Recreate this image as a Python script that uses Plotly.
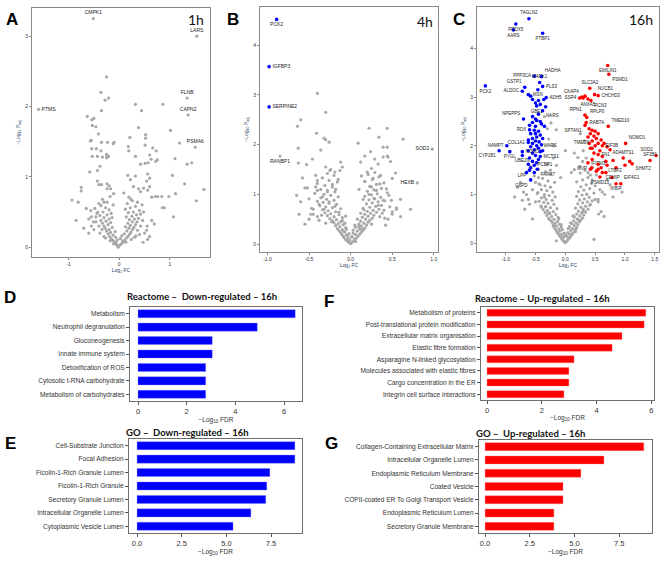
import plotly.graph_objects as go

W, H = 669, 561
GREY = "#a8a8a8"
BLUE = "#0000ff"
RED = "#ff0000"

# ---------------- A: 1h volcano ----------------
a_grey_x = [-0.25, -0.36, -0.21, -0.28, 0.32, 0.86, -0.35, 0.44, -0.63, -0.54, -0.5, -0.53, -0.46, -0.41, 1.01, 0.38,
            0.52, 0.52, 0.21, -0.57, -0.55, -0.35, -0.23, -0.10, -0.12, 0.18, 0.51, 0.66, 0.73, 1.19, -0.54, -0.45,
            -0.25, -0.21, -0.25, -0.24, -0.36, -0.33, -0.53, -0.43, 0.32, 0.19, 0.6, 0.63, 0.75, 0.72, 0.57, 0.42,
            0.51, 1.10, 1.34, 1.43, -0.38, -0.58, -0.43, 0.17, 0.32, 0.56, 0.60, 0.54, 0.22, 1.05, -0.43, -0.40,
            -0.35, -0.24, -0.20, -0.24, -0.17, -0.75, -0.75, 1.29, 1.67, 0.28, 0.38, 0.42, 0.48, 0.56, 0.6, 0.64,
            0.71, 0.76, 0.84, 0.98, 1.11, 0.09, 0.19, 0.23, -0.18, -0.11, -0.33, -0.24, -0.40, -0.93, -0.81, 1.52,
            0.85, 0.89, 1.07, -0.85, -0.65, -0.56, -0.48, -0.55, -0.60, -0.46, -0.51, 0.54, 0.56, 0.69, 0.64,
            -0.02, 0.0, -0.05, 0.03, -0.08, 0.06, -0.1, 0.09, -0.13, 0.11, -0.04, 0.02, -0.16, 0.14, -0.07, -0.19,
            0.17, 0.05, -0.12, 0.2, -0.22, 0.1, -0.17, 0.23, -0.25, 0.15, -0.08, 0.26, -0.2, 0.19, -0.28, 0.29,
            -0.14, 0.12, -0.3, 0.22, -0.22, 0.32, -0.33, 0.17, -0.17, 0.26, 0.35, -0.26, -0.36, 0.2, 0.3, -0.2,
            0.38, -0.3, -0.14, 0.14, 0.25, -0.38, -0.24, 0.34, 0.42, -0.16, 0.18, -0.32, 0.28, -0.42, 0.4, -0.2,
            0.12, -0.27, 0.22, 0.32, -0.36, 0.45, -0.12, 0.16, -0.3, 0.36, 0.26, -0.44, 0.48, -0.34, 0.36, -0.4,
            0.42, 0.46, -0.46, 0.3, -0.3, 0.4, -0.38, 0.5, -0.5, 0.55, -0.55, -0.6, 0.6, -0.7, 0.47, -0.06, 0.07,
            -0.11, 0.13, -0.18, 0.24, -0.27, 0.33]
a_grey_y = [2.42, 2.2, 2.12, 2.09, 2.03, 2.03, 1.94, 1.94, 1.86, 1.81, 1.83, 1.73, 1.71, 1.61, 1.66, 1.70,
            1.60, 1.55, 1.56, 1.51, 1.52, 1.49, 1.49, 1.49, 1.47, 1.43, 1.45, 1.41, 1.37, 1.48, 1.40, 1.40,
            1.32, 1.29, 1.27, 1.30, 1.37, 1.28, 1.29, 1.29, 1.29, 1.37, 1.31, 1.25, 1.24, 1.22, 1.20, 1.18,
            1.19, 1.26, 1.18, 1.20, 1.15, 1.07, 1.09, 1.02, 1.01, 1.04, 0.98, 0.94, 0.96, 1.02, 0.94, 0.89,
            0.89, 0.90, 0.87, 0.83, 0.83, 0.85, 0.80, 0.90, 0.82, 0.86, 0.83, 0.79, 0.84, 0.81, 0.86, 0.71,
            0.72, 0.72, 0.72, 0.72, 0.76, 0.77, 0.71, 0.68, 0.72, 0.76, 0.68, 0.64, 0.62, 0.67, 0.64, 0.66,
            0.56, 0.56, 0.43, 0.38, 0.55, 0.52, 0.55, 0.43, 0.40, 0.43, 0.36, 0.24, 0.11, 0.33, 0.38,
            0.0, 0.02, 0.03, 0.04, 0.05, 0.06, 0.08, 0.08, 0.1, 0.1, 0.1, 0.12, 0.12, 0.13, 0.14, 0.15,
            0.15, 0.16, 0.17, 0.18, 0.19, 0.19, 0.21, 0.21, 0.23, 0.23, 0.22, 0.25, 0.25, 0.27, 0.27, 0.28,
            0.28, 0.29, 0.3, 0.31, 0.32, 0.32, 0.34, 0.34, 0.35, 0.36, 0.36, 0.37, 0.38, 0.39, 0.4, 0.4,
            0.41, 0.42, 0.42, 0.43, 0.44, 0.45, 0.46, 0.46, 0.47, 0.48, 0.49, 0.5, 0.5, 0.5, 0.52, 0.53,
            0.54, 0.56, 0.56, 0.58, 0.59, 0.6, 0.6, 0.62, 0.64, 0.64, 0.66, 0.48, 0.5, 0.25, 0.24, 0.3,
            0.3, 0.38, 0.36, 0.14, 0.15, 0.18, 0.2, 0.2, 0.25, 0.3, 0.3, 0.2, 0.15, 0.27, 0.07, 0.06, 0.09,
            0.05, 0.07, 0.09, 0.11, 0.13, 0.16]
a_lab = ["CMPK1", "LARS", "FLNB", "CAPN2", "PSMA6", "PTMS"]
a_lab_x = [-0.51, 1.53, 1.34, 1.36, 1.50, -1.59]
a_lab_y = [3.25, 3.0, 2.12, 1.88, 1.42, 1.96]

# ---------------- B: 4h volcano ----------------
b_grey_x = [-0.40, -0.30, -0.60, -0.64, -0.41, -0.32, -0.30, -0.26, -0.63, -0.36, -0.63, -0.53, -0.46, 0.09,
            0.22, 0.44, 0.34, 0.39, 0.24, 0.63, 0.44, 0.45, 0.17, 0.12, 0.29, 0.33, 0.39, 0.44, 0.48, 0.54,
            0.50, -0.58, -0.55, -0.52, -0.5, -0.42, -0.40, -0.42, -0.40, -0.30, -0.25, -0.19, -0.13, -0.12,
            0.55, 0.55, 0.72, 0.39, 0.46, 0.43, 0.35, 0.31, 0.25, 0.17, 0.13, 0.2, 0.27, 0.36, 0.22,
            0.49, 0.5, -0.65, -0.6, -0.47, -0.45, -0.38, -0.34, -0.28, -0.22, -0.18, -0.32, -0.26, -0.15, -0.1,
            0.1, 0.15, 0.28, 0.33, 0.4, 0.45, -0.5, -0.4, -0.55, -0.3, -0.62, 0.6, 0.35, 0.42, 0.6,
            0.0, -0.02, 0.02, -0.04, 0.04, -0.06, 0.05, -0.03, 0.07, -0.08, 0.02, -0.09, 0.09, -0.05, 0.06,
            -0.11, 0.11, -0.02, 0.03, -0.12, 0.13, -0.08, 0.08, -0.14, 0.15, -0.1, 0.11, -0.16, 0.17, -0.06,
            0.06, -0.13, 0.13, -0.18, 0.19, -0.09, 0.1, -0.15, 0.16, -0.2, 0.21, -0.12, 0.12, -0.22, 0.23,
            -0.17, 0.18, -0.25, 0.26, -0.1, 0.14, -0.2, 0.21, -0.28, 0.28, -0.14, 0.17, -0.24, 0.24, -0.31,
            0.31, -0.18, 0.2, -0.27, 0.27, -0.34, 0.34, -0.12, 0.15, -0.22, 0.23, -0.3, 0.3, -0.37, 0.37,
            -0.17, 0.19, -0.26, 0.26, -0.33, 0.33, -0.4, 0.41, -0.2, 0.22, -0.29, 0.29, -0.36, 0.36, -0.15,
            0.17, -0.24, 0.25, -0.32, 0.32, -0.43, 0.44, -0.19, 0.2, -0.28, 0.28, -0.36, 0.37, -0.22, 0.23,
            -0.31, 0.31, -0.4, 0.4, -0.16, 0.17, -0.26, 0.26, -0.34, 0.34, -0.2, 0.21, -0.28, 0.29, -0.24,
            0.25, -0.01, 0.01, -0.04, 0.03, -0.05, 0.05, -0.07, 0.08, -0.06, 0.06, -0.07, 0.1, -0.1, 0.12,
            -0.14, 0.16, -0.19, 0.14, -0.23, 0.25, -0.35, 0.38, -0.45, 0.47, -0.38, 0.41, -0.48, 0.5]
b_grey_y = [3.03, 2.65, 2.5, 2.37, 2.23, 2.13, 2.10, 2.05, 1.93, 1.89, 1.63, 1.6, 1.71, 2.03,
            2.33, 2.33, 2.15, 1.95, 1.86, 2.11, 1.95, 1.75, 1.77, 1.65, 1.71, 1.61, 1.75, 1.77, 1.66, 1.43,
            1.32, 1.33, 1.13, 1.13, 0.91, 1.38, 1.28, 1.15, 1.08, 1.55, 1.48, 1.45, 1.48, 1.65,
            0.73, 0.70, 0.70, 0.88, 0.98, 1.11, 1.21, 1.08, 1.15, 1.26, 1.37, 1.45, 1.32, 1.38, 1.0,
            0.88, 0.6, 0.98, 0.85, 0.72, 0.6, 0.8, 0.95, 1.05, 1.2, 1.1, 0.7, 0.85, 1.3, 1.55,
            1.1, 0.9, 0.92, 0.78, 0.68, 0.5, 0.5, 0.55, 0.4, 0.42, 0.6, 0.9, 0.55, 0.38, 0.55,
            0.01, 0.03, 0.04, 0.06, 0.07, 0.09, 0.1, 0.12, 0.12, 0.13, 0.14, 0.16, 0.16, 0.18, 0.19,
            0.2, 0.2, 0.21, 0.22, 0.23, 0.24, 0.25, 0.26, 0.27, 0.28, 0.29, 0.3, 0.31, 0.32, 0.33,
            0.34, 0.35, 0.36, 0.37, 0.38, 0.39, 0.4, 0.41, 0.42, 0.43, 0.44, 0.45, 0.46, 0.47, 0.48,
            0.49, 0.5, 0.51, 0.52, 0.53, 0.54, 0.55, 0.56, 0.57, 0.58, 0.59, 0.6, 0.61, 0.62, 0.63,
            0.64, 0.65, 0.66, 0.67, 0.68, 0.69, 0.7, 0.71, 0.72, 0.73, 0.74, 0.75, 0.76, 0.77, 0.78,
            0.8, 0.81, 0.82, 0.83, 0.84, 0.85, 0.86, 0.87, 0.88, 0.89, 0.9, 0.91, 0.93, 0.94, 0.95,
            0.96, 0.98, 0.99, 1.0, 1.01, 1.02, 1.03, 1.05, 1.06, 1.08, 1.09, 1.1, 1.12, 1.15, 1.16,
            1.18, 1.2, 1.22, 1.23, 1.25, 1.26, 1.28, 1.3, 1.33, 1.35, 1.38, 1.4, 1.42, 1.44, 1.5,
            1.52, 0.08, 0.15, 0.17, 0.28, 0.3, 0.38, 0.42, 0.5, 0.56, 0.05, 0.24, 0.35, 0.47, 0.62,
            0.64, 0.69, 0.76, 0.3, 0.45, 0.4, 0.58, 0.62, 0.7, 0.75, 0.48, 0.52, 0.6, 0.65]
b_blue = ["PCK2", "IGFBP3", "SERPINE2"]
b_blue_x = [-0.89, -0.98, -0.98]
b_blue_y = [4.52, 3.57, 2.76]
b_lab = ["RANBP1", "SOD2", "HEXB"]
b_lab_x = [-0.85, 0.98, 0.80]
b_lab_y = [1.77, 1.91, 1.23]

# ---------------- C: 16h volcano ----------------
c_grey_x = [-0.24, -0.15, -0.28, -0.2, 0.0, 0.15, 0.21, 0.29, 0.24, 0.15, 0.1, -0.2, -0.15, -0.3, -0.25,
            0.3, 0.35, 0.38, -0.35, -0.3, 0.32, 0.25, -0.75, -0.8, -0.7, -0.85, -0.62, 0.7, 0.75, 0.62, 0.8,
            0.55, 0.95, -0.08, -0.45, -0.5, -0.55, -0.42, -0.65, 0.45, 0.5, 0.42, 0.58, 0.66,
            0.0, -0.02, 0.02, -0.04, 0.04, -0.06, 0.06, -0.03, 0.08, -0.08, 0.03, -0.1, 0.1, -0.06, 0.07,
            -0.12, 0.12, -0.02, 0.04, -0.14, 0.15, -0.09, 0.09, -0.16, 0.17, -0.11, 0.12, -0.18, 0.19, -0.07,
            0.07, -0.15, 0.15, -0.2, 0.21, -0.1, 0.11, -0.17, 0.18, -0.22, 0.24, -0.13, 0.14, -0.25, 0.26,
            -0.19, 0.2, -0.28, 0.29, -0.12, 0.15, -0.23, 0.24, -0.31, 0.31, -0.16, 0.19, -0.27, 0.27, -0.34,
            0.34, -0.2, 0.22, -0.3, 0.3, -0.37, 0.38, -0.14, 0.17, -0.25, 0.26, -0.33, 0.34, -0.41, 0.41,
            -0.19, 0.21, -0.29, 0.29, -0.36, 0.37, -0.44, 0.45, -0.22, 0.24, -0.32, 0.32, -0.4, 0.4, -0.17,
            0.19, -0.27, 0.28, -0.35, 0.36, -0.47, 0.48, -0.21, 0.22, -0.31, 0.31, -0.4, 0.41, -0.25, 0.26,
            -0.34, 0.35, -0.44, 0.44, -0.18, 0.19, -0.29, 0.29, -0.38, 0.38, -0.52, 0.52, -0.24, 0.25, -0.33,
            0.33, -0.45, 0.46, -0.58, 0.56, -0.28, 0.3, -0.4, 0.42, -0.5, 0.5, -0.35, 0.36, -0.46, 0.48,
            -0.01, 0.01, -0.05, 0.05, -0.07, 0.09, -0.11, 0.13, -0.15, 0.17, -0.2, 0.23, -0.26, 0.29, -0.33,
            -0.6, 0.6, -0.68, 0.65, -0.55, 0.55, -0.72, 0.7]
c_grey_y = [2.47, 2.33, 2.14, 2.0, 1.9, 1.85, 1.76, 1.68, 1.58, 1.51, 1.45, 1.75, 1.6, 1.62, 1.5,
            1.9, 1.75, 1.45, 2.6, 2.35, 2.1, 2.25, 1.25, 1.15, 1.05, 0.95, 0.9, 1.3, 1.2, 1.05, 0.95,
            0.9, 1.05, 1.35, 1.35, 1.25, 1.1, 1.2, 1.0, 1.3, 1.18, 1.4, 1.1, 1.0,
            0.01, 0.03, 0.04, 0.06, 0.07, 0.09, 0.1, 0.12, 0.12, 0.13, 0.14, 0.16, 0.16, 0.18, 0.19,
            0.2, 0.2, 0.21, 0.22, 0.23, 0.24, 0.25, 0.26, 0.27, 0.28, 0.29, 0.3, 0.31, 0.32, 0.33,
            0.34, 0.35, 0.36, 0.37, 0.38, 0.39, 0.4, 0.41, 0.42, 0.43, 0.44, 0.45, 0.46, 0.47, 0.48,
            0.49, 0.5, 0.51, 0.52, 0.53, 0.54, 0.55, 0.56, 0.57, 0.58, 0.59, 0.6, 0.61, 0.62, 0.63,
            0.64, 0.65, 0.66, 0.67, 0.68, 0.69, 0.7, 0.71, 0.72, 0.73, 0.74, 0.75, 0.76, 0.77, 0.78,
            0.8, 0.81, 0.82, 0.83, 0.84, 0.85, 0.86, 0.87, 0.88, 0.89, 0.9, 0.91, 0.93, 0.94, 0.95,
            0.96, 0.98, 0.99, 1.0, 1.01, 1.02, 1.03, 1.05, 1.06, 1.08, 1.09, 1.1, 1.12, 1.15, 1.16,
            1.18, 1.2, 1.22, 1.23, 1.25, 1.26, 1.28, 1.3, 1.33, 1.35, 1.38, 1.4, 1.42, 1.44, 1.47,
            1.5, 1.52, 1.55, 1.57, 0.6, 0.62, 0.7, 0.74, 0.8, 0.85, 0.9, 0.95, 1.0, 1.04,
            0.08, 0.15, 0.17, 0.28, 0.3, 0.38, 0.42, 0.5, 0.56, 0.05, 0.24, 0.35, 0.47, 0.62, 0.64,
            0.75, 0.8, 0.65, 0.7, 0.55, 0.5, 0.85, 0.88]
c_blue = ["TAGLN2", "PRDX5", "AARS", "PTBP1", "PCK2", "MAPK1", "PPP3CA", "HADHA", "GSTP1", "PLS3", "ALDOC",
          "MSN", "ADH5", "GBE1", "NARS", "NPEPPS", "RDX", "COL1A1", "NAMPT", "CYP1B1", "PYGL", "NONO", "UBE2N",
          "WARS", "MCTS1", "PCBP1", "LPP", "PARK7", "G6PD"]
c_blue_x = [-0.61, -0.83, -0.87, -0.38, -1.34, -0.43, -0.52, -0.40, -0.68, -0.38, -0.72, -0.46, -0.32,
            -0.48, -0.38, -0.70, -0.60, -0.62, -0.98, -1.11, -0.93, -0.72, -0.72, -0.42, -0.42, -0.52,
            -0.60, -0.47, -0.58]
c_blue_y = [4.61, 4.50, 4.38, 4.31, 3.23, 3.30, 3.43, 3.42, 3.20, 3.22, 3.12, 3.15, 2.99, 2.82, 2.72,
            2.55, 2.33, 2.07, 2.00, 1.90, 1.88, 1.88, 1.80, 1.88, 1.78, 1.60, 1.50, 1.52, 1.30]
c_blue_more_x = [-0.62, -0.58, -0.55, -0.45, -0.36, -0.5, -0.42, -0.33, -0.45, -0.55, -0.5, -0.48, -0.42,
                 -0.55, -0.4, -0.6, -0.5, -0.35, -0.52, -0.45, -0.58, -0.5, -0.42, -0.48, -0.55, -0.38,
                 -0.62, -0.5, -0.44, -0.55, -0.48, -0.4, -0.58, -0.52, -0.45, -0.62, -0.38, -0.55, -0.5,
                 -0.6, -0.45, -0.55, -0.62, -0.48, -0.58, -0.65, -0.52]
c_blue_more_y = [3.05, 3.02, 2.95, 2.93, 2.95, 2.88, 2.85, 2.8, 2.65, 2.6, 2.55, 2.52, 2.5, 2.48, 2.45,
                 2.42, 2.4, 2.4, 2.32, 2.3, 2.25, 2.25, 2.22, 2.18, 2.15, 2.15, 2.12, 2.1, 2.08, 2.05,
                 2.0, 2.02, 1.98, 1.92, 1.95, 1.9, 1.9, 1.85, 1.8, 1.75, 1.72, 1.68, 1.62, 1.65, 1.55,
                 1.45, 1.45]
c_red = ["EMILIN1", "PSMD1", "SLC3A2", "CKAP4", "SSR4", "NUCB1", "CHCHD3", "ANXA5", "RCN3", "RPN1", "RPLP0",
         "RAB7A", "SPTAN1", "TMED10", "NOMO1", "SOD2", "SF3B1", "ADAMTS1", "SHMT2", "LTBP2", "EIF3B", "TMED9",
         "FN1", "IFITM3", "MVP", "CEMIP", "PSMD13", "EIF4G1", "IKBIP"]
c_red_x = [0.71, 0.73, 0.41, 0.28, 0.24, 0.49, 0.55, 0.38, 0.43, 0.33, 0.36, 0.35, 0.33, 0.72, 1.01, 1.52,
           1.42, 0.97, 1.12, 1.0, 0.62, 0.45, 0.55, 0.55, 0.42, 0.62, 0.58, 0.93, 0.85]
c_red_y = [3.65, 3.47, 3.18, 3.0, 2.98, 3.05, 3.03, 2.96, 2.93, 2.63, 2.58, 2.48, 2.42, 2.40, 2.05, 1.80,
           1.70, 1.75, 1.63, 1.60, 2.0, 1.95, 1.82, 1.52, 1.52, 1.45, 1.36, 1.22, 1.22]
c_red_more_x = [0.40, 0.45, 0.5, 0.42, 0.55, 0.48, 0.38, 0.52, 0.6, 0.45, 0.4, 0.55, 0.5, 0.65, 0.7, 0.42,
                0.58, 0.75, 0.48, 0.62, 0.45, 0.68, 0.38, 0.55, 0.44, 0.6, 0.7, 0.52, 0.68, 0.8, 0.85, 1.08,
                0.78, 0.3, 0.33]
c_red_more_y = [2.35, 2.32, 2.3, 2.25, 2.25, 2.2, 2.18, 2.15, 2.12, 2.1, 2.05, 2.05, 2.0, 2.05, 1.98, 1.95,
                1.9, 1.92, 1.85, 1.78, 1.72, 1.68, 1.65, 1.62, 1.55, 1.55, 1.6, 1.48, 1.45, 1.7, 1.55, 1.68,
                1.35, 2.98, 3.02]

# ---------------- D/F/E/G: enrichment bars ----------------
d_terms = ["Metabolism", "Neutrophil degranulation", "Gluconeogenesis", "Innate immune system",
           "Detoxification of ROS", "Cytosolic t-RNA carbohydrate", "Metabolism of carbohydrates"]
d_vals = [6.46, 4.90, 3.05, 3.05, 2.78, 2.78, 2.78]
f_terms = ["Metabolism of proteins", "Post-translational protein modification", "Extracellular matrix organisation",
           "Elastic fibre formation", "Asparagine N-linked glycosylation", "Molecules associated with elastic fibres",
           "Cargo concentration in the ER", "Integrin cell surface interactions"]
f_vals = [5.80, 5.74, 4.93, 4.57, 3.18, 2.99, 2.99, 2.81]
e_terms = ["Cell-Substrate Junction", "Focal Adhesion", "Ficolin-1-Rich Granule Lumen", "Ficolin-1-Rich Granule",
           "Secretory Granule Lumen", "Intracellular Organelle Lumen", "Cytoplasmic Vesicle Lumen"]
e_vals = [8.83, 8.83, 7.43, 7.26, 7.20, 6.37, 5.37]
g_terms = ["Collagen-Containing Extracellular Matrix", "Intracellular Organelle Lumen",
           "Endoplasmic Reticulum Membrane", "Coated Vesicle", "COPII-coated ER To Golgi Transport Vesicle",
           "Endoplasmic Reticulum Lumen", "Secretory Granule Membrane"]
g_vals = [8.88, 6.65, 5.36, 4.36, 4.36, 3.85, 3.85]


def dom(x0, x1, y0, y1):
    return [x0 / W, x1 / W], [1 - y1 / H, 1 - y0 / H]


fig = go.Figure()
layout = {}
annots = []
FONT = "Liberation Sans, Arial, sans-serif"


def note(text, px, py, size, family=FONT, color="#000"):
    annots.append(dict(text=text, x=px / W, y=1 - py / H, xref="paper", yref="paper", showarrow=False,
                       xanchor="center", yanchor="middle", font=dict(size=size, color=color, family=family)))


def axnames(n):
    s = "" if n == 1 else str(n)
    return "x" + s, "y" + s, "xaxis" + s, "yaxis" + s


def volcano(n, box, xr, yr, xtv, xtt, ytv):
    xs, ys, xk, yk = axnames(n)
    xd, yd = dom(*box)
    common = dict(showline=True, mirror=True, linecolor="#8a8a8a", linewidth=1, ticks="outside", ticklen=2,
                  tickcolor="#8a8a8a", tickfont=dict(size=5, color="#333", family=FONT), showgrid=False,
                  zeroline=False, automargin=False)
    layout[xk] = dict(domain=xd, anchor=ys, range=xr, tickvals=xtv, ticktext=xtt,
                      title=dict(text="Log<sub>2</sub> FC", font=dict(size=5, family=FONT), standoff=1), **common)
    layout[yk] = dict(domain=yd, anchor=xs, range=yr, tickvals=ytv,
                      title=dict(text="\u2212Log<sub>10</sub> P<sub>adj</sub>", font=dict(size=5, family=FONT),
                                 standoff=4), **common)
    return xs, ys


def dots(xs, ys, x, y, color, size=3.2, names=None, pos=None, fs=5):
    fig.add_trace(go.Scatter(
        x=x, y=y, xaxis=xs, yaxis=ys, mode="markers+text" if names else "markers",
        text=names, textposition=pos, textfont=dict(size=fs, color="#222", family=FONT),
        marker=dict(color=color, size=size, line=dict(width=0)), showlegend=False, cliponaxis=False))


# A
xs, ys = volcano(1, (32, 210, 8, 257), [-1.72, 1.79], [-0.14, 3.4], [-1, 0, 1], ["-1", "0", "1"], [0, 1, 2, 3])
dots(xs, ys, a_grey_x, a_grey_y, GREY)
dots(xs, ys, a_lab_x, a_lab_y, GREY, names=a_lab,
     pos=["top center", "top center", "top center", "top center", "top center", "middle right"])

# B
xs, ys = volcano(2, (260, 438, 7, 252), [-1.09, 1.05], [-0.16, 4.77], [-1, -0.5, 0, 0.5, 1],
                 ["-1.0", "-0.5", "0.0", "0.5", "1.0"], [0, 1, 2, 3, 4])
dots(xs, ys, b_grey_x, b_grey_y, GREY)
dots(xs, ys, b_lab_x, b_lab_y, GREY, names=b_lab, pos=["bottom center", "middle left", "middle left"])
dots(xs, ys, b_blue_x, b_blue_y, BLUE, size=3.6, names=b_blue,
     pos=["bottom center", "middle right", "middle right"])

# C
xs, ys = volcano(3, (477, 659, 7, 252), [-1.48, 1.57], [-0.18, 4.85], [-1, -0.5, 0, 0.5, 1, 1.5],
                 ["-1.0", "-0.5", "0.0", "0.5", "1.0", "1.5"], [0, 1, 2, 3, 4])
dots(xs, ys, c_grey_x, c_grey_y, GREY)
dots(xs, ys, c_blue_more_x, c_blue_more_y, BLUE, size=3.6)
dots(xs, ys, c_red_more_x, c_red_more_y, RED, size=3.6)
dots(xs, ys, c_blue_x, c_blue_y, BLUE, size=3.6, names=c_blue, fs=4.5,
     pos=["top center", "bottom center", "bottom center", "bottom center", "bottom center", "top center",
          "middle left", "top right", "top left", "middle right", "middle left", "bottom center", "middle right",
          "bottom center", "bottom right", "top left", "middle left", "middle left", "middle left", "bottom left",
          "bottom center", "middle right", "bottom center", "top right", "middle right", "middle right",
          "bottom left", "bottom right", "bottom left"])
dots(xs, ys, c_red_x, c_red_y, RED, size=3.6, names=c_red, fs=4.5,
     pos=["bottom center", "bottom right", "top center", "top left", "middle left", "top right", "middle right",
          "bottom center", "bottom right", "top left", "top right", "middle right", "bottom left", "top right",
          "top right", "top left", "top center", "top center", "bottom right", "bottom left", "middle right",
          "top left", "middle right", "top center", "middle left", "bottom right", "bottom center", "top right",
          "bottom center"])


def bars(n, box, terms, vals, color, xr, xtv, xtt, title, tpos):
    xs, ys, xk, yk = axnames(n)
    xd, yd = dom(*box)
    common = dict(showline=True, mirror=True, linecolor="#6e6e6e", linewidth=1, ticks="outside", ticklen=3,
                  tickcolor="#555", showgrid=False, zeroline=False, automargin=False)
    layout[xk] = dict(domain=xd, anchor=ys, range=xr, tickvals=xtv, ticktext=xtt,
                      tickfont=dict(size=7.5, color="#333", family=FONT),
                      title=dict(text="\u2212Log<sub>10</sub> FDR", font=dict(size=6.5, color="#333", family=FONT),
                                 standoff=1), **common)
    layout[yk] = dict(domain=yd, anchor=xs, range=[len(terms) - 0.5, -0.5], type="category",
                      tickfont=dict(size=6.6, color="#333", family=FONT), **common)
    edge = "rgba(120,120,255,0.6)" if color == BLUE else "rgba(255,120,120,0.6)"
    fig.add_trace(go.Bar(x=vals, y=terms, orientation="h", xaxis=xs, yaxis=ys, width=0.6,
                         marker=dict(color=color, line=dict(width=0.6, color=edge)), showlegend=False))
    note("<b>" + title + "</b>", tpos[0], tpos[1], 9.5, family="Lato, sans-serif", color="#111")


bars(4, (130, 302, 307, 401), d_terms, d_vals, BLUE, [-0.33, 6.74], [0, 2, 4, 6], ["0", "2", "4", "6"],
     "Reactome \u2013  Down-regulated \u2013 16h", (202, 296))
bars(5, (481, 654, 307, 400), f_terms, f_vals, RED, [-0.22, 6.1], [0, 2, 4, 6], ["0", "2", "4", "6"],
     "Reactome \u2013 Up-regulated \u2013 16h", (542, 298))
bars(6, (129, 302, 439, 533), e_terms, e_vals, BLUE, [-0.45, 9.23], [0, 2.5, 5, 7.5],
     ["0.0", "2.5", "5.0", "7.5"], "GO \u2013  Down-regulated \u2013 16h", (187, 432))
bars(7, (479, 652, 440, 533), g_terms, g_vals, RED, [-0.34, 9.34], [0, 2.5, 5, 7.5],
     ["0.0", "2.5", "5.0", "7.5"], "GO \u2013  Up-regulated \u2013 16h", (530, 433))

# panel letters and time labels
for t, px, py in [("A", 12, 20), ("B", 233, 20), ("C", 459, 20), ("D", 10, 297), ("F", 329, 301),
                  ("E", 10, 443), ("G", 331, 443)]:
    note("<b>" + t + "</b>", px, py, 17)
for t, px, py in [("1h", 196, 20), ("4h", 425, 21), ("16h", 641, 20)]:
    note(t, px, py, 14, family="Lato, sans-serif", color="#111")

fig.update_layout(width=W, height=H, margin=dict(l=0, r=0, t=0, b=0), paper_bgcolor="white",
                  plot_bgcolor="white", annotations=annots, **layout)
# the page body keeps its default 8px margin otherwise, which pushes the figure off the window
fig.write_html("out.html", config={"displayModeBar": False},
               post_script="document.body.style.margin='0px';")
